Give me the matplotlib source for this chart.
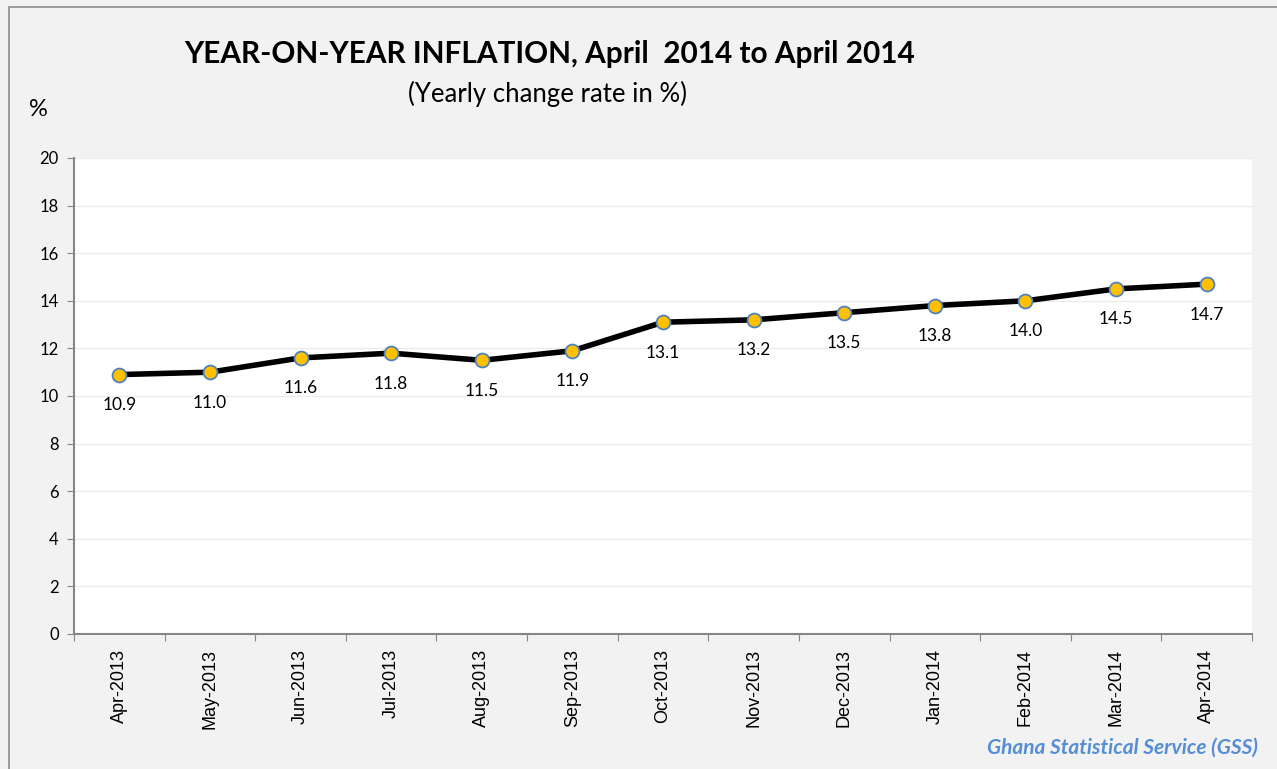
import numpy as np
import matplotlib.pyplot as plt
from matplotlib.patches import Rectangle

months = ['Apr-2013', 'May-2013', 'Jun-2013', 'Jul-2013', 'Aug-2013', 'Sep-2013',
          'Oct-2013', 'Nov-2013', 'Dec-2013', 'Jan-2014', 'Feb-2014', 'Mar-2014', 'Apr-2014']
rates = [10.9, 11.0, 11.6, 11.8, 11.5, 11.9, 13.1, 13.2, 13.5, 13.8, 14.0, 14.5, 14.7]
yticks = [0, 2, 4, 6, 8, 10, 12, 14, 16, 18, 20]

plt.rcParams['font.family'] = ['Lato', 'DejaVu Sans']

fig = plt.figure(figsize=(12.77, 7.69), dpi=100)
fig.patch.set_facecolor('#f2f2f2')
# outer chart border
fig.patches.append(Rectangle((9/1277, -0.01), 1.02, 1 - 7/769 + 0.01, transform=fig.transFigure,
                             fill=False, edgecolor='#8c8c8c', linewidth=1.2))

ax = fig.add_axes([74/1277, 1 - 634/769, (1252 - 74)/1277, (634 - 158)/769])
ax.set_facecolor('white')

x = np.arange(len(months))
ax.plot(x, rates, color='black', linewidth=4, zorder=3,
        marker='o', markersize=10, markerfacecolor='#ffc000',
        markeredgecolor='#4f81bd', markeredgewidth=1.3)
for xi, v in zip(x, rates):
    ax.annotate(f'{v:.1f}', (xi, v), xytext=(0, -22), textcoords='offset points',
                ha='center', va='center', fontsize=12.5, color='black')

ax.set_xlim(-0.5, len(months) - 0.5)
ax.set_ylim(0, 20)
ax.set_yticks(yticks)
ax.yaxis.grid(True, color='#ececec', linewidth=1)
ax.set_axisbelow(True)
ax.tick_params(axis='y', labelsize=12, length=5, color='#868686', pad=6)

ax.set_xticks(np.arange(-0.5, len(months), 1.0))
ax.set_xticklabels([])
ax.set_xticks(x, minor=True)
ax.set_xticklabels(months, minor=True, rotation=90, fontsize=13,
                   family=['Liberation Sans', 'DejaVu Sans'])
ax.tick_params(axis='x', which='major', length=5, color='#868686')
ax.tick_params(axis='x', which='minor', length=0, pad=11)

for s in ['top', 'right']:
    ax.spines[s].set_visible(False)
for s in ['left', 'bottom']:
    ax.spines[s].set_color('#868686')
    ax.spines[s].set_linewidth(1.5)

fig.text(550/1277, 1 - 54/769, 'YEAR-ON-YEAR INFLATION, April  2014 to April 2014',
         ha='center', va='center', fontsize=21.4, fontweight='bold')
fig.text(548/1277, 1 - 94/769, '(Yearly change rate in %)', ha='center', va='center', fontsize=18.5)
fig.text(38/1277, 1 - 110/769, '%', ha='center', va='center', fontsize=17)
fig.text(1258/1277, 1 - 748/769, 'Ghana Statistical Service (GSS)', ha='right', va='center',
         fontsize=15, fontweight='bold', style='italic', color='#558ed5')

fig.savefig('out.png', dpi=100, facecolor=fig.get_facecolor())
